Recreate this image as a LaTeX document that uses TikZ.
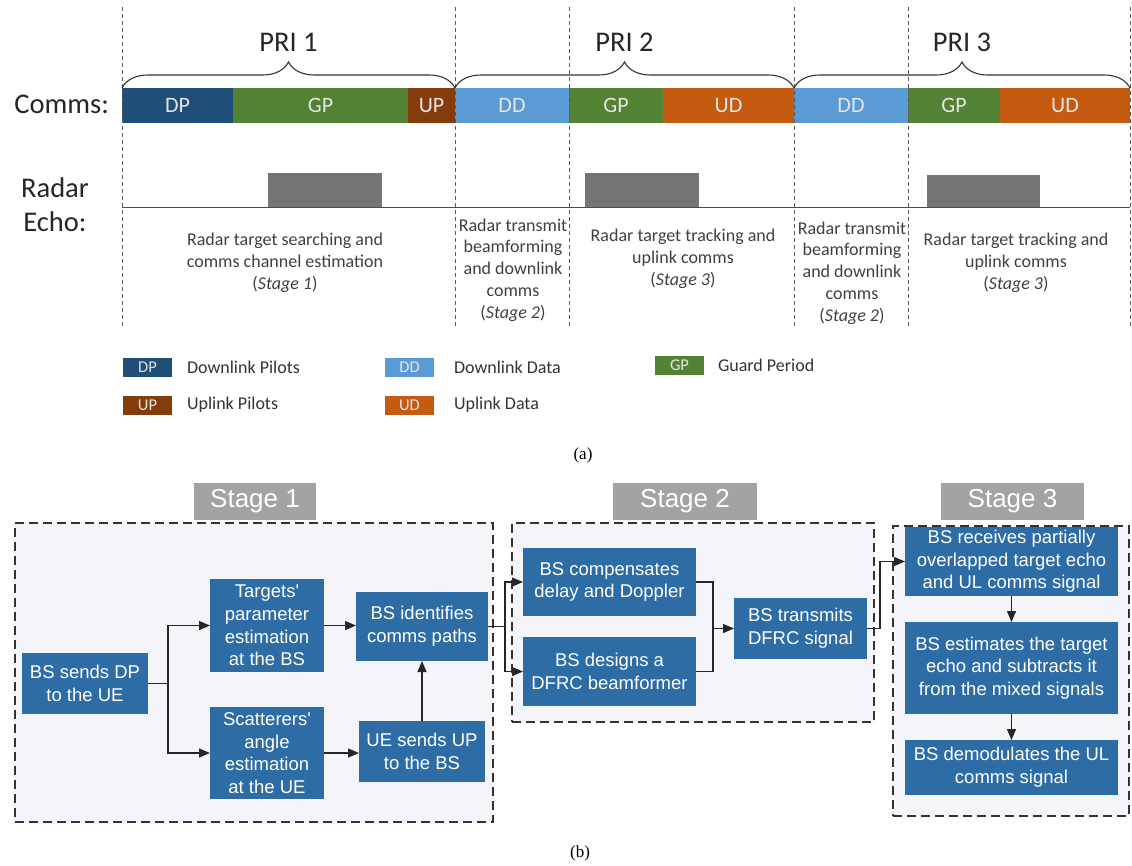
\documentclass[tikz,border=0pt]{standalone}
\usepackage{fontspec}
\setmainfont{Carlito}
\newfontfamily\arialfont{Liberation Sans}
\newfontfamily\timesfont{Liberation Serif}
\usepackage{xcolor}
\usetikzlibrary{arrows.meta, positioning, calc, decorations.pathreplacing}
\definecolor{cdp}{RGB}{31,78,121}
\definecolor{cgp}{RGB}{84,130,53}
\definecolor{cup}{RGB}{132,60,12}
\definecolor{cdd}{RGB}{91,155,213}
\definecolor{cud}{RGB}{197,90,17}
\definecolor{cpulse}{RGB}{117,117,119}
\definecolor{cbox}{RGB}{46,108,165}
\definecolor{cstage}{RGB}{163,163,163}
\definecolor{cframe}{RGB}{243,245,250}

\begin{document}
\begin{tikzpicture}[x=1pt, y=-1pt,
        every node/.style={align=center, inner sep=0pt, outer sep=0pt},
        seg/.style={minimum height=35pt, text=white!90!black, font=\fontsize{22}{26}\selectfont},
        big/.style={font=\fontsize{28.5}{34}\selectfont, text=black!85},
        desc/.style={font=\fontsize{18}{21.8}\selectfont, text=black!75},
        vline/.style={draw=black!65, dash pattern=on 4pt off 3pt, line width=0.8pt},
        brc/.style={draw=black!80, line width=1.1pt, decorate, decoration={brace, amplitude=26pt}},
        pulse/.style={fill=cpulse, minimum height=34pt, anchor=south west},
        leg/.style={minimum width=49pt, minimum height=19pt, text=white!90!black, font=\fontsize{16.5}{19}\selectfont},
        legt/.style={font=\fontsize{18}{21}\selectfont, text=black!80, anchor=west},
        stframe/.style={draw=black!80, fill=cframe, dash pattern=on 9pt off 5pt, line width=1.7pt, anchor=north west},
        stg/.style={fill=cstage, minimum height=37pt, text=white, font=\arialfont\fontsize{26}{30}\selectfont},
        blk/.style={fill=cbox, text=white, font=\arialfont\fontsize{18.5}{22.7}\selectfont},
        liga/.style={line width=1.2pt, draw=black!85},
        seta/.style={liga, -{Triangle[length=11pt, width=9pt]}},
        capt/.style={font=\timesfont\fontsize{17}{20}\selectfont}
    ]
        \useasboundingbox (0,0) rectangle (1132,865);
        \coordinate (ttop) at (0,7);
        \coordinate (tbot) at (0,328);

        \node[seg, fill=cdp, minimum width=111pt, anchor=west] (dp1) at (122,105.5) {DP};
        \node[seg, fill=cgp, minimum width=175pt, right=0pt of dp1] (gp1) {GP};
        \node[seg, fill=cup, minimum width=47pt, right=0pt of gp1] (up1) {UP};
        \node[seg, fill=cdd, minimum width=114pt, right=0pt of up1] (dd1) {DD};
        \node[seg, fill=cgp, minimum width=94pt, right=0pt of dd1] (gp2) {GP};
        \node[seg, fill=cud, minimum width=131pt, right=0pt of gp2] (ud1) {UD};
        \node[seg, fill=cdd, minimum width=114pt, right=0pt of ud1] (dd2) {DD};
        \node[seg, fill=cgp, minimum width=92pt, right=0pt of dd2] (gp3) {GP};
        \node[seg, fill=cud, minimum width=130pt, right=0pt of gp3] (ud2) {UD};

        \draw[vline] (dp1.west |- ttop) -- (dp1.west |- tbot);
        \draw[vline] (up1.east |- ttop) -- (up1.east |- tbot);
        \draw[vline] (dd1.east |- ttop) -- (dd1.east |- tbot);
        \draw[vline] (ud1.east |- ttop) -- (ud1.east |- tbot);
        \draw[vline] (dd2.east |- ttop) -- (dd2.east |- tbot);
        \draw[vline] (ud2.east |- ttop) -- (ud2.east |- tbot);

        \draw[brc] (dp1.north west) -- (up1.north east);
        \draw[brc] (dd1.north west) -- (ud1.north east);
        \draw[brc] (dd2.north west) -- (ud2.north east);
        \node[big] (pri1) at ($(dp1.north west)!.5!(up1.north east)+(0,-46)$) {PRI 1};
        \node[big] (pri2) at ($(dd1.north west)!.5!(ud1.north east)+(0,-46)$) {PRI 2};
        \node[big] (pri3) at ($(dd2.north west)!.5!(ud2.north east)+(0,-46)$) {PRI 3};

        \node[big, anchor=east] (comms) at (109,104) {Comms:};
        \node[big] (radar) at (55,188) {Radar};
        \node[big] (echo) at (55,222) {Echo:};

        \coordinate (e0) at (122,207);
        \coordinate (e1) at (1130,207);
        \draw[line width=1pt, black!70] (e0) -- (e1);
        \node[pulse, minimum width=114pt] (p1) at (268,207) {};
        \node[pulse, minimum width=114pt] (p2) at (585,207) {};
        \node[pulse, minimum width=113pt, minimum height=32pt] (p3) at (927,207) {};

        \node[desc] (t1) at (285,263) {Radar target searching and\\comms channel estimation\\(\textit{Stage 1})};
        \node[desc] (t2) at (513,270) {Radar transmit\\beamforming\\and downlink\\comms\\(\textit{Stage 2})};
        \node[desc] (t3) at (683,259) {Radar target tracking and\\uplink comms\\(\textit{Stage 3})};
        \node[desc] (t4) at (852,273) {Radar transmit\\beamforming\\and downlink\\comms\\(\textit{Stage 2})};
        \node[desc] (t5) at (1016,263) {Radar target tracking and\\uplink comms\\(\textit{Stage 3})};

        \node[leg, fill=cdp] (ldp) at (147.5,367.5) {DP};
        \node[legt, right=15pt of ldp] (tdp) {Downlink Pilots};
        \node[leg, fill=cup] (lup) at (147.5,405) {UP};
        \node[legt, right=15pt of lup] (tup) {Uplink Pilots};
        \node[leg, fill=cdd] (ldd) at (409.5,367.5) {DD};
        \node[legt, right=20pt of ldd] (tdd) {Downlink Data};
        \node[leg, fill=cud] (lud) at (409.5,405) {UD};
        \node[legt, right=20pt of lud] (tud) {Uplink Data};
        \node[leg, fill=cgp] (lgp) at (679.5,365.5) {GP};
        \node[legt, right=14pt of lgp] (tgp) {Guard Period};
        \node[capt] (capa) at (583,455) {(a)};

        \node[stframe, minimum width=478pt, minimum height=299pt] (f1) at (15,523) {};
        \node[stframe, minimum width=362pt, minimum height=199pt] (f2) at (512,523) {};
        \node[stframe, minimum width=236pt, minimum height=290pt] (f3) at (893,526) {};
        \node[stg, minimum width=122pt] (s1) at (255,501.5) {Stage 1};
        \node[stg, minimum width=144pt] (s2) at (685,501.5) {Stage 2};
        \node[stg, minimum width=143pt] (s3) at (1012.5,501.5) {Stage 3};

        \node[blk, minimum width=126pt, minimum height=61pt] (bsdp) at (85,683.5) {BS sends DP\\to the UE};
        \node[blk, minimum width=114pt, minimum height=93pt] (tpe) at (267,625.5) {Targets'\\parameter\\estimation\\at the BS};
        \node[blk, minimum width=114pt, minimum height=92pt] (sae) at (267,753) {Scatterers'\\angle\\estimation\\at the UE};
        \node[blk, minimum width=132pt, minimum height=69pt] (bsid) at (422,626.5) {BS identifies\\comms paths};
        \node[blk, minimum width=126pt, minimum height=61pt, below=60pt of bsid] (ueup) {UE sends UP\\to the BS};

        \node[blk, minimum width=173pt, minimum height=68pt] (comp) at (609.5,582) {BS compensates\\delay and Doppler};
        \node[blk, minimum width=173pt, minimum height=69pt, below=21pt of comp] (dsgn) {BS designs a\\DFRC beamformer};
        \node[blk, minimum width=133pt, minimum height=61pt] (tx) at (800.5,628.5) {BS transmits\\DFRC signal};

        \node[blk, minimum width=213pt, minimum height=69pt] (rcv) at (1011.5,561.5) {BS receives partially\\overlapped target echo\\and UL comms signal};
        \node[blk, minimum width=213pt, minimum height=92pt, below=26pt of rcv] (est) {BS estimates the target\\echo and subtracts it\\from the mixed signals};
        \node[blk, minimum width=213pt, minimum height=55pt, below=26pt of est] (dem) {BS demodulates the UL\\comms signal};

        \draw[seta] (bsdp.east) -- ++(20,0) coordinate (j1) |- (tpe.west);
        \draw[seta] (j1) |- (sae.west);
        \draw[seta] (tpe.east) -- (tpe.east -| bsid.west);
        \draw[seta] (sae.east) -- (sae.east -| ueup.west);
        \draw[seta] (ueup.north) -- (bsid.south);
        \draw[seta] (bsid.east) -- ++(17,0) coordinate (j2) |- (comp.west);
        \draw[seta] (j2) |- (dsgn.west);
        \draw[liga] (comp.east) -- ++(17,0) coordinate (j3) |- (dsgn.east);
        \draw[seta] (j3 |- tx.west) -- (tx.west);
        \draw[seta] (tx.east) -- ++(13,0) |- (rcv.west);
        \draw[seta] (rcv.south) -- (est.north);
        \draw[seta] (est.south) -- (dem.north);
        \node[capt] (capb) at (580,853) {(b)};
    \end{tikzpicture}
\end{document}
